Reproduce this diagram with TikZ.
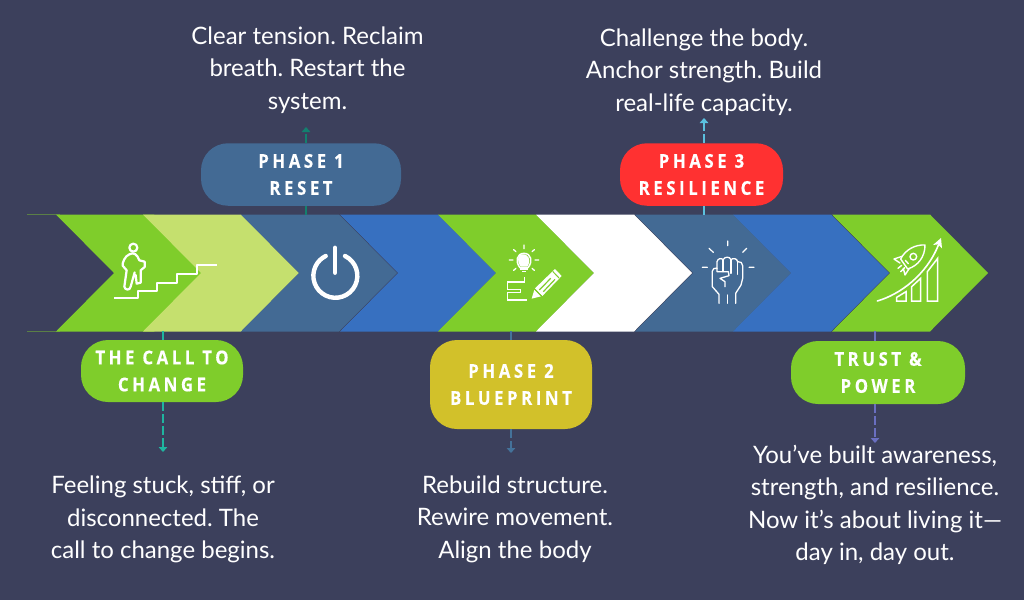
\documentclass[tikz,border=0pt]{standalone}
\usepackage{fontspec}
\usetikzlibrary{arrows.meta}
\setmainfont{Lato}
\newfontfamily\pillfont[FakeStretch=0.88,FakeBold=0.4,LetterSpace=19]{Open Sans}
\definecolor{bgc}{HTML}{3C405C}
\definecolor{grn}{HTML}{7FCD2B}
\definecolor{lgrn}{HTML}{C5E06E}
\definecolor{slate}{HTML}{436A94}
\definecolor{blu}{HTML}{3770C0}
\definecolor{yel}{HTML}{D2C12A}
\definecolor{rd}{HTML}{FF3131}
\definecolor{cza}{HTML}{1FB5A0}
\definecolor{czb}{HTML}{13806F}
\definecolor{czc}{HTML}{44729A}
\definecolor{czd}{HTML}{5BC0DE}
\definecolor{cze}{HTML}{6A6FC0}
\tikzset{
  x=1pt,y=-1pt,
  pill/.style={fill=#1,rectangle,rounded corners=27pt,inner sep=0,draw=none,text=white,align=center,font=\pillfont\bfseries\fontsize{19}{27}\selectfont},
  body/.style={text=white,align=center,inner sep=0,font=\frenchspacing\fontsize{24}{32.4}\selectfont},
  conn/.style={line width=1.8,draw=#1},
  connd/.style={line width=1.8,draw=#1,dash pattern=on 9pt off 3pt,-{Triangle[length=5pt,width=8.5pt]}},
  ic/.style={draw=white,line cap=round,line join=round,line width=#1},
  ic/.default=1.4
}
\newcommand{\chev}[2]{\fill[#2] (#1,214.5) -- ++(98,0) -- ++(58,58.5) -- ++(-58,58.5) -- ++(-98,0) -- ++(58,-58.5) -- cycle;}
\newcommand{\pillbox}[7]{\node[pill=#2,minimum width=#5,minimum height=#6] (#1) at (#3,#4) {#7};}
\begin{document}
\begin{tikzpicture}
\useasboundingbox (0,0) rectangle (1024,600);
\fill[bgc] (0,0) rectangle (1024,600);
\draw[line width=.6,draw=grn!45!bgc] (27,214.5) -- (60,214.5) (27,331) -- (60,331);
% chevrons
\chev{56}{grn}
\chev{143}{lgrn}
\chev{241}{slate}
\chev{340}{blu}
\chev{438}{grn}
\chev{536}{white}
\chev{635}{slate}
\chev{733}{blu}
\chev{832}{grn}
% connector endpoints
\coordinate (b0) at (163,331); \coordinate (e0) at (163,452);
\coordinate (b1) at (306,214.5); \coordinate (e1) at (306,127);
\coordinate (b2) at (511,331); \coordinate (e2) at (511,453);
\coordinate (b3) at (704,214.5); \coordinate (e3) at (704,118);
\coordinate (b4) at (875,331); \coordinate (e4) at (875,443);
% pills
\pillbox{p0}{grn}{162}{371}{162}{62}{THE CALL TO\\CHANGE}
\pillbox{p1}{slate}{301}{174.5}{200}{62.5}{PHASE 1\\RESET}
\pillbox{p2}{yel}{511}{384.5}{162}{89}{PHASE 2\\BLUEPRINT}
\pillbox{p3}{rd}{701.5}{174.5}{163}{62.5}{PHASE 3\\RESILIENCE}
\pillbox{p4}{grn}{878}{372.5}{174}{63}{TRUST \&\\POWER}
% connectors
\draw[conn=cza] (b0) -- (b0 |- p0.north);
\draw[connd=cza] (e0 |- p0.south) -- (e0);
\draw[conn=czb] (b1) -- (b1 |- p1.south);
\draw[connd=czb] (e1 |- p1.north) -- (e1);
\draw[conn=czc] (b2) -- (b2 |- p2.north);
\draw[connd=czc] (e2 |- p2.south) -- (e2);
\draw[conn=czd] (b3) -- (b3 |- p3.south);
\draw[connd=czd] (e3 |- p3.north) -- (e3);
\draw[conn=cze] (b4) -- (b4 |- p4.north);
\draw[connd=cze] (e4 |- p4.south) -- (e4);
% body text
\node[body] (t1) at (307.5,70) {Clear tension. Reclaim\\breath. Restart the\\system.};
\node[body] (t3) at (704,72) {Challenge the body.\\Anchor strength. Build\\real-life capacity.};
\node[body] (t0) at (163,519.5) {Feeling stuck, stiff, or\\disconnected. The\\call to change begins.};
\node[body] (t2) at (515,519) {Rebuild structure.\\Rewire movement.\\Align the body};
\node[body] (t4) at (875,505) {You’ve built awareness,\\strength, and resilience.\\Now it’s about living it—\\day in, day out.};
% walker icon
\begin{scope}[shift={(100,235)},scale=1/3]
\draw[ic=2.2,line cap=butt] (43,188) -- (115,188) -- (115,167) -- (172,167) -- (172,145) -- (232,145) -- (232,118) -- (290,118) -- (290,91) -- (352,91);
\draw[ic=2.2] (100,38) circle (12);
\draw[ic=2.2] (88,58) .. controls (100,50) and (112,58) .. (118,76) -- (134,80) -- (134,96) -- (122,106) -- (122,143) -- (110,146) -- (107,120) (88,58) .. controls (75,62) and (66,85) .. (68,92) -- (80,106) -- (73,155) .. controls (74,165) and (90,168) .. (92,155) -- (104,112);
\end{scope}
% power icon
\draw[ic=4.4] (345,256) arc (-64:244:22);
\draw[ic=4.8] (335,248) -- (335,272.5);
% bulb + pencil
\begin{scope}[shift={(420,200)},scale=1/3]
\draw[ic=1.5] (300,203) .. controls (285,185) and (290,160) .. (312,160) .. controls (334,160) and (339,185) .. (324,203) -- cycle;
\fill[white] (305,163) .. controls (325,160) and (335,180) .. (322,200) -- (302,200) .. controls (290,185) and (292,165) .. (305,163);
\fill[white] (301,205) rectangle (323,211);
\fill[white] (306,213) rectangle (318,217);
\draw[ic=1.3] (312,135) -- (312,146) (281,149) -- (288,155) (343,149) -- (336,155) (268,180) -- (279,180) (356,180) -- (345,180) (281,211) -- (288,205) (343,211) -- (336,205);
\draw[ic=1.6,line cap=butt,line join=miter] (313,232) -- (313,246) -- (263,246) -- (263,269) -- (302,269) -- (302,277) -- (263,277) -- (263,300) -- (321,300);
\fill[white] (405,207) -- (425,228) -- (367,288) -- (345,265) -- cycle;
\fill[white] (335,296) -- (343,269) -- (363,289) -- cycle;
\draw[grn,line width=1.2] (392,235) -- (358,270) (405,238) -- (370,275);
\draw[grn,line width=1] (398,214) -- (418,235);
\draw[grn,line width=1] (342,266) -- (366,290);
\end{scope}
% fist
\begin{scope}[shift={(695,235)},scale=1/3]
\draw[ic=1.2] (98,18) -- (98,32) (42,40) -- (55,52) (155,40) -- (143,52) (22,97) -- (37,97) (162,97) -- (177,97);
\draw[ic=1.3] (72,205) -- (72,178) -- (52,155) -- (52,108) .. controls (52,100) and (60,98) .. (66,100) -- (66,80) .. controls (68,70) and (80,68) .. (84,74) .. controls (90,64) and (104,64) .. (108,74) .. controls (114,68) and (126,70) .. (128,80) .. controls (136,78) and (143,84) .. (143,92) -- (143,130) -- (138,150) -- (122,175) -- (122,205);
\draw[ic=1.3] (97,180) -- (97,205);
\draw[ic=1.3] (66,100) -- (66,110) -- (100,110) -- (102,122) -- (75,130) -- (90,140) -- (90,155);
\draw[ic=1.3] (84,74) -- (84,110) (108,74) -- (108,115) (128,80) -- (128,118);
\end{scope}
% rocket + chart
\begin{scope}[shift={(870,235)},scale=1/3]
\draw[ic=1.6] (22,198) .. controls (90,178) and (170,120) .. (206,28);
\fill[white] (213,9) -- (216,40) -- (204,28) -- (189,30) -- cycle;
\draw[ic=1.5,line cap=butt,line join=miter] (80,198) -- (80,187) -- (108,170) -- (108,198) -- cycle;
\draw[ic=1.5,line cap=butt,line join=miter] (125,198) -- (125,155) -- (152,130) -- (152,198) -- cycle;
\draw[ic=1.5,line cap=butt,line join=miter] (172,198) -- (172,110) -- (203,70) -- (203,198) -- cycle;
\draw[ic=1.4] (165,30) .. controls (135,28) and (105,45) .. (92,72) -- (113,102) .. controls (145,92) and (165,65) .. (165,30) -- cycle;
\draw[ic=1.4] (130,65) circle (10);
\draw[ic=1.4] (96,64) -- (72,72) -- (90,84) (118,100) -- (105,120) -- (100,100);
\draw[ic=1.4] (84,100) -- (95,91) (92,110) -- (104,98);
\draw[ic=1.4] (106,76) -- (115,86);
\end{scope}
\end{tikzpicture}
\end{document}
